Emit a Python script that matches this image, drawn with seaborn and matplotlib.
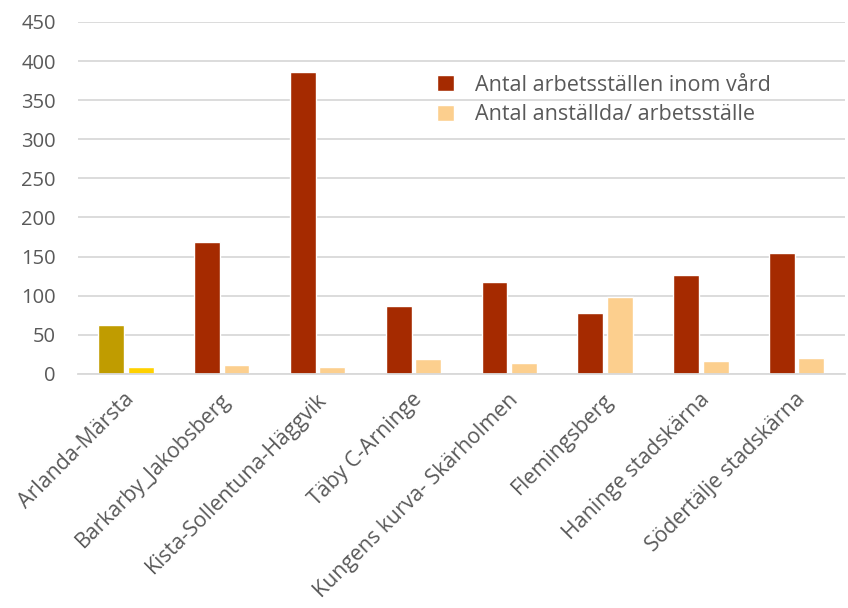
import pandas as pd
import matplotlib.pyplot as plt
import matplotlib.transforms as mtransforms
import seaborn as sns

# Data
omraden = ['Arlanda-Märsta', 'Barkarby_Jakobsberg', 'Kista-Sollentuna-Häggvik',
           'Täby C-Arninge', 'Kungens kurva- Skärholmen', 'Flemingsberg',
           'Haninge stadskärna', 'Södertälje stadskärna']
arbetsstallen = [63, 168, 386, 87, 118, 78, 127, 155]
anstallda = [9, 12, 9, 19, 14, 98, 17, 20]
serie1 = 'Antal arbetsställen inom vård'
serie2 = 'Antal anställda/ arbetsställe'

df = pd.DataFrame({'Område': omraden * 2,
                   'Värde': arbetsstallen + anstallda,
                   'Serie': [serie1] * len(omraden) + [serie2] * len(omraden)})

sns.set_style('white')
plt.rcParams['font.family'] = ['Open Sans', 'DejaVu Sans']
textfarg = '#595959'

fig = plt.figure(figsize=(8.48, 6.08), dpi=100)
ax = fig.add_axes([0.092, 0.385, 0.904, 0.579])

sns.barplot(data=df, x='Område', y='Värde', hue='Serie',
            palette={serie1: '#A52A00', serie2: '#FCCF8E'},
            width=0.615, gap=0.12, ax=ax, saturation=1)

# första området har egna färger
ax.containers[0][0].set_facecolor('#C09C00')
ax.containers[1][0].set_facecolor('#FFD100')

ax.set_ylim(0, 450)
ax.set_yticks(range(0, 451, 50))
ax.set_xlim(-0.5, len(omraden) - 0.5)
ax.yaxis.grid(True, color='#D9D9D9', linewidth=1.3)
ax.set_axisbelow(True)
for s in ['top', 'right', 'left']:
    ax.spines[s].set_visible(False)
ax.spines['bottom'].set_color('#D9D9D9')
ax.spines['bottom'].set_linewidth(1.3)
ax.set_xlabel('')
ax.set_ylabel('')
ax.tick_params(axis='y', length=0, pad=16, labelsize=14.5, labelcolor=textfarg)
ax.tick_params(axis='x', length=0, pad=11, labelsize=15.3, labelcolor=textfarg)
skift = mtransforms.ScaledTranslation(-0.02, 0, fig.dpi_scale_trans)
for lbl in ax.get_xticklabels():
    lbl.set_rotation(45)
    lbl.set_ha('right')
    lbl.set_rotation_mode('anchor')
    lbl.set_transform(lbl.get_transform() + skift)

leg = ax.legend(loc='upper left', bbox_to_anchor=(0.443, 0.905), frameon=False,
                fontsize=15.5, handlelength=0.8, handleheight=0.8, handletextpad=0.95,
                labelspacing=0.4)
for t in leg.get_texts():
    t.set_color(textfarg)

fig.savefig('out.png', dpi=100)
